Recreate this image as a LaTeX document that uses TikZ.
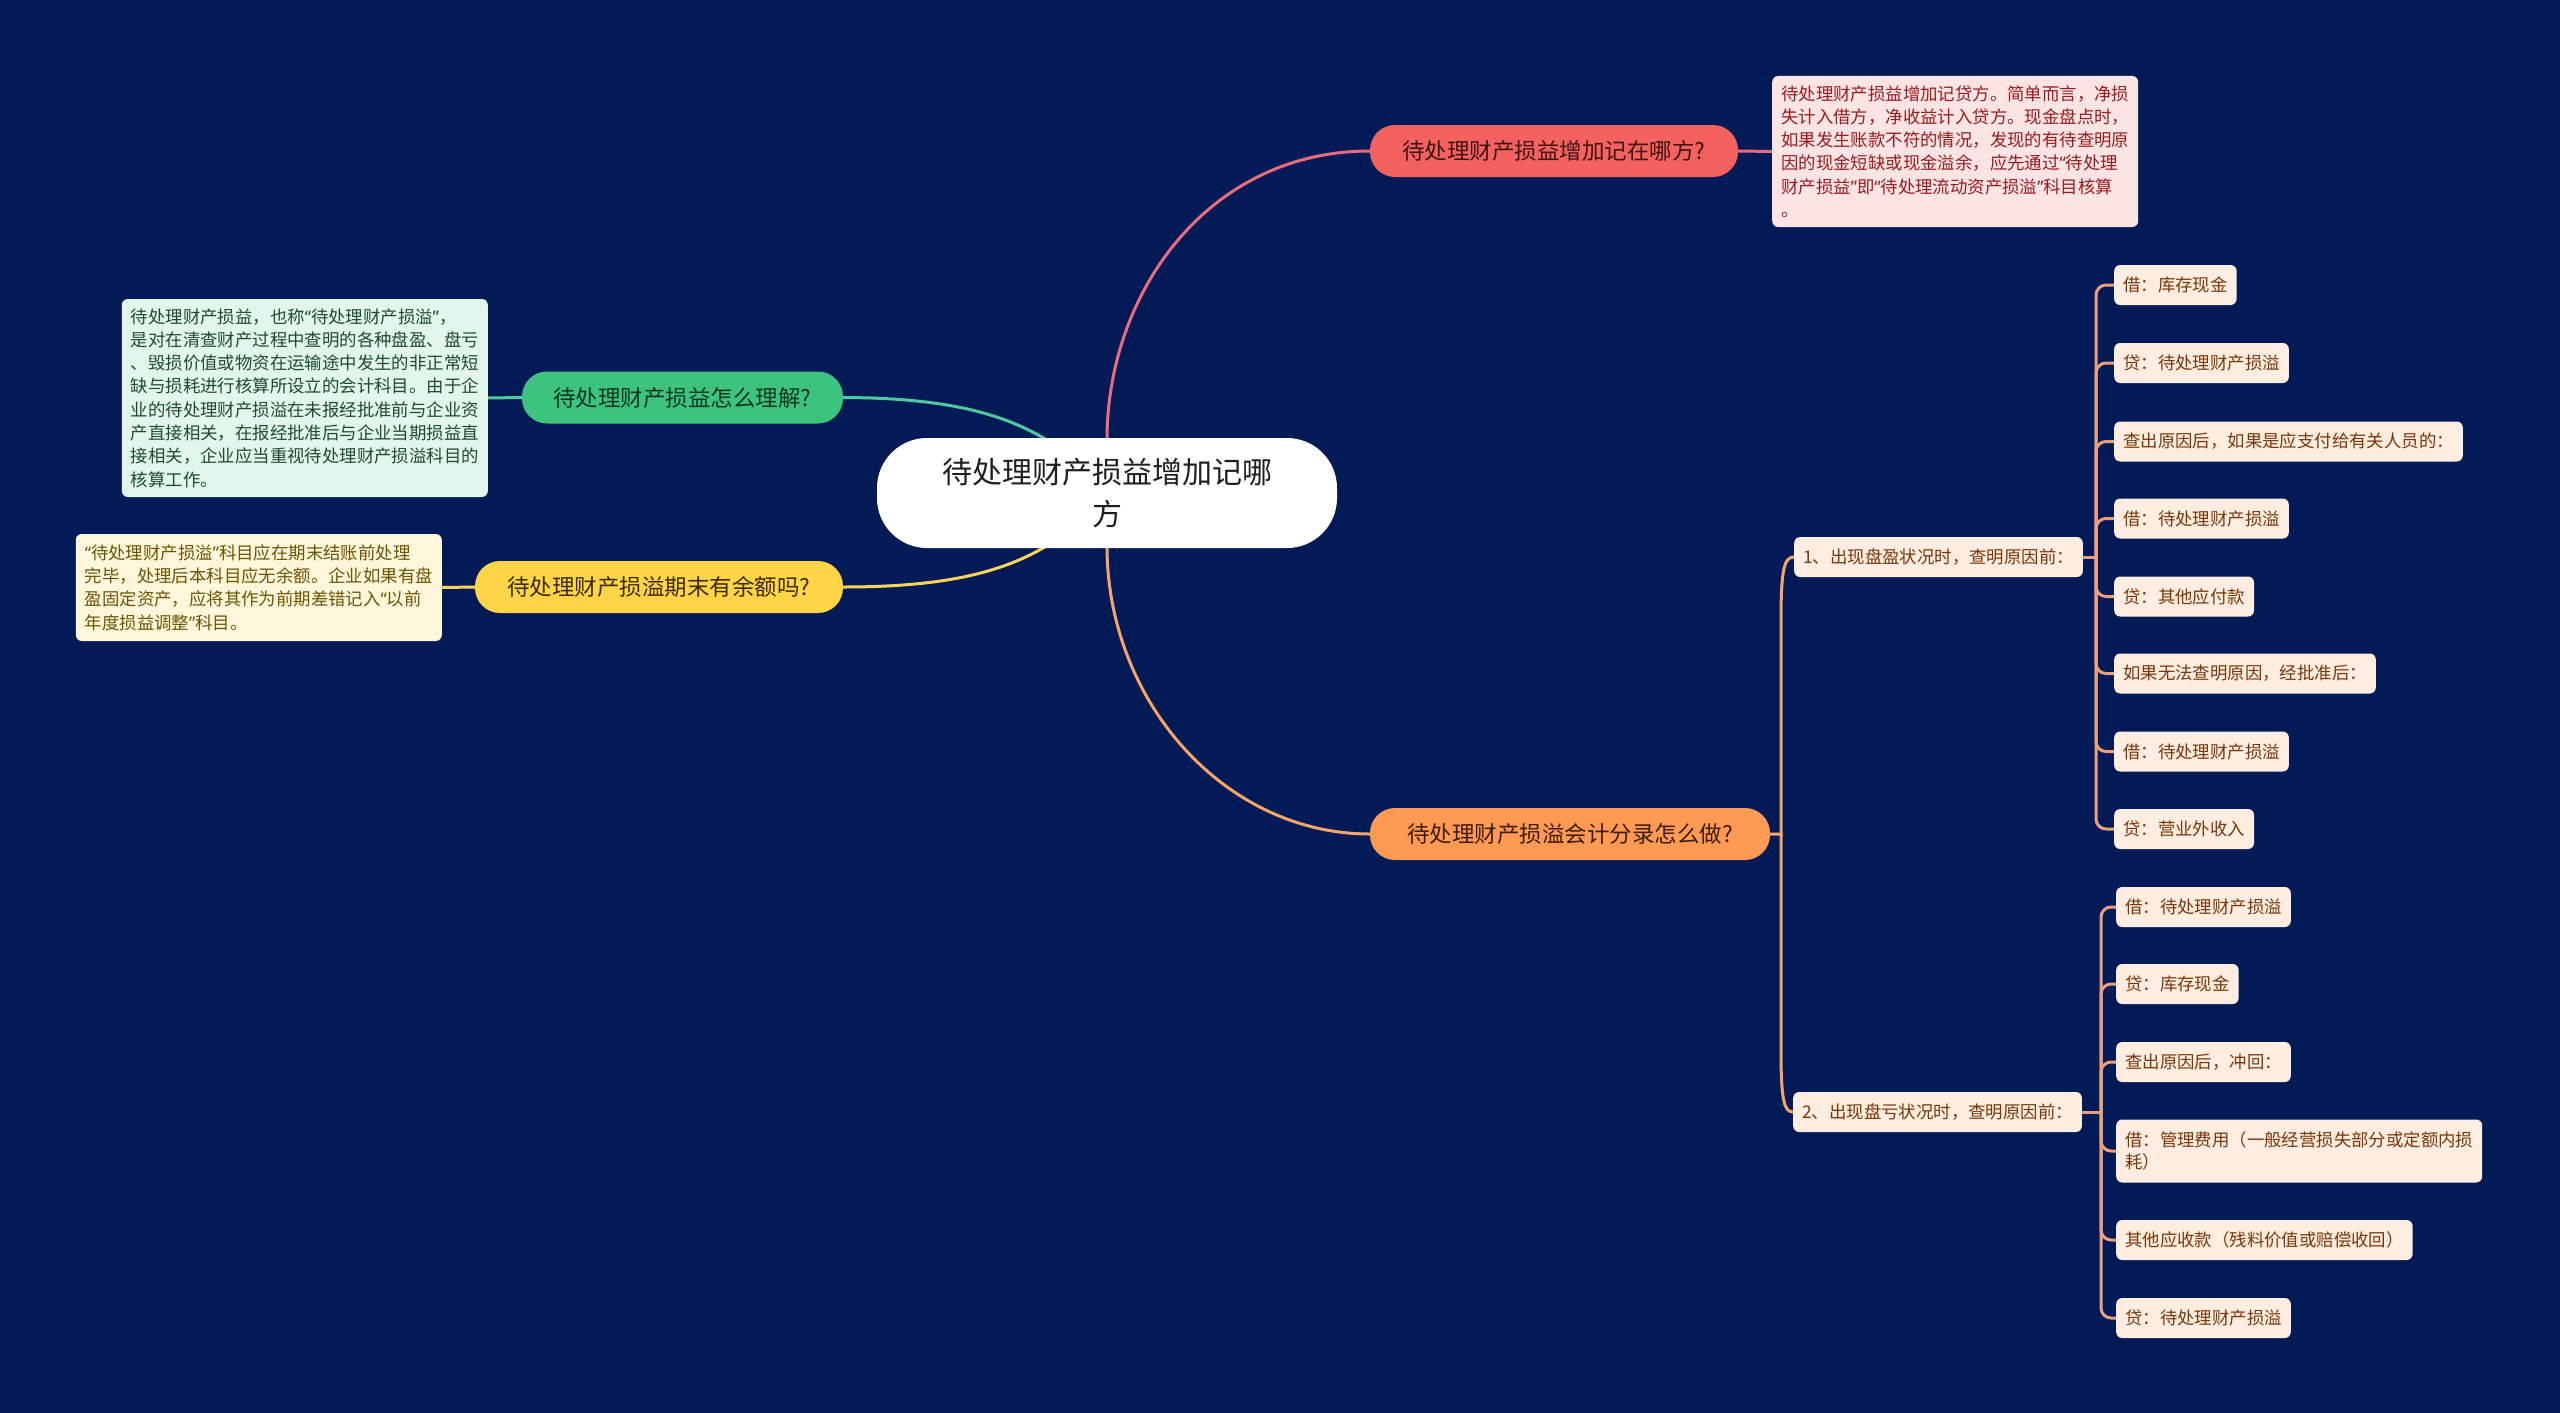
\documentclass[tikz,border=0pt]{standalone}
\usepackage{fontspec}
\setmainfont{Noto Sans CJK SC}
\newfontfamily\latinq{Noto Sans}
\newcommand\myqo{{\latinq “}}
\newcommand\myqc{{\latinq ”}}
\pgfdeclarelayer{back}
\pgfdeclarelayer{bg}
\pgfsetlayers{back,bg,main}
\definecolor{bgc}{HTML}{021B57}
\definecolor{redF}{HTML}{F4625F}
\definecolor{redT}{HTML}{3E1212}
\definecolor{redN}{HTML}{FDE4E4}
\definecolor{redNT}{HTML}{9A1B1B}
\definecolor{redL}{HTML}{E96B7E}
\definecolor{greenF}{HTML}{3CC47F}
\definecolor{greenT}{HTML}{0F3522}
\definecolor{greenN}{HTML}{E2F6EC}
\definecolor{greenNT}{HTML}{1C4A33}
\definecolor{greenL}{HTML}{4DC9A0}
\definecolor{yellowF}{HTML}{FFD447}
\definecolor{yellowT}{HTML}{3A2C00}
\definecolor{yellowN}{HTML}{FFF7DC}
\definecolor{yellowNT}{HTML}{6E5300}
\definecolor{yellowL}{HTML}{F7D55A}
\definecolor{orangeF}{HTML}{FF9A55}
\definecolor{orangeT}{HTML}{3D1C00}
\definecolor{orangeL}{HTML}{F7A468}
\definecolor{leafF}{HTML}{FEEDE0}
\definecolor{leafT}{HTML}{7A3608}
\definecolor{treeL}{HTML}{EAA07E}
\begin{document}
\begin{tikzpicture}[x=1pt,y=-1pt,
  rootbox/.style={fill=white, rounded corners=50, minimum width=460, minimum height=110,
    align=center, text=black!88, inner sep=0, font=\fontsize{30}{42}\selectfont},
  branch/.style={rounded corners=25, minimum height=52, inner sep=0,
    font=\fontsize{22.5}{27}\selectfont},
  note/.style={rounded corners=6, align=left, inner xsep=9, inner ysep=6,
    font=\fontsize{17.4}{23.3}\selectfont},
  leaf/.style={fill=leafF, text=leafT, rounded corners=6, minimum height=40,
    inner xsep=9, inner ysep=4, anchor=west, align=left,
    font=\fontsize{17.4}{22.5}\selectfont},
  mainline/.style={line width=3pt},
  treeline/.style={line width=3pt, draw=treeL}
]
\begin{pgfonlayer}{back}
\fill[bgc] (0,0) rectangle (2560,1413);
\end{pgfonlayer}
\useasboundingbox (0,0) rectangle (2560,1413);

% root
\node[rootbox] (root) at (1107,493) {待处理财产损益增加记哪\\方};

% branches
\node[branch, fill=redF, text=redT, minimum width=368] (b1) at (1554,151) {待处理财产损益增加记在哪方?};
\node[branch, fill=greenF, text=greenT, minimum width=321] (b2) at (682.5,397.5) {待处理财产损益怎么理解?};
\node[branch, fill=yellowF, text=yellowT, minimum width=368] (b3) at (659,587) {待处理财产损溢期末有余额吗?};
\node[branch, fill=orangeF, text=orangeT, minimum width=400] (b4) at (1570,834) {待处理财产损溢会计分录怎么做?};

% notes
\node[note, fill=redN, text=redNT, anchor=west, minimum height=151] (n1) at (1772,151.5)
 {待处理财产损益增加记贷方。简单而言，净损\\失计入借方，净收益计入贷方。现金盘点时，\\如果发生账款不符的情况，发现的有待查明原\\因的现金短缺或现金溢余，应先通过\myqo 待处理\\财产损益\myqc 即\myqo 待处理流动资产损溢\myqc 科目核算\\。};
\node[note, fill=greenN, text=greenNT, anchor=east, minimum height=198] (n2) at (488,398)
 {待处理财产损益，也称\myqo 待处理财产损溢\myqc ，\\是对在清查财产过程中查明的各种盘盈、盘亏\\、毁损价值或物资在运输途中发生的非正常短\\缺与损耗进行核算所设立的会计科目。由于企\\业的待处理财产损溢在未报经批准前与企业资\\产直接相关，在报经批准后与企业当期损益直\\接相关，企业应当重视待处理财产损溢科目的\\核算工作。};
\node[note, fill=yellowN, text=yellowNT, anchor=east, minimum height=107] (n3) at (442,587.5)
 {\myqo 待处理财产损溢\myqc 科目应在期末结账前处理\\完毕，处理后本科目应无余额。企业如果有盘\\盈固定资产，应将其作为前期差错记入\myqo 以前\\年度损益调整\myqc 科目。};

% sub-branches
\node[leaf] (s1) at (1794,557) {1、出现盘盈状况时，查明原因前：};
\node[leaf] (s2) at (1793,1112) {2、出现盘亏状况时，查明原因前：};

% leaves of s1
\node[leaf] (l1) at (2114,285) {借：库存现金};
\node[leaf] (l2) at (2114,363) {贷：待处理财产损溢};
\node[leaf] (l3) at (2114,441.5) {查出原因后，如果是应支付给有关人员的：};
\node[leaf] (l4) at (2114,518.5) {借：待处理财产损溢};
\node[leaf] (l5) at (2114,596.5) {贷：其他应付款};
\node[leaf] (l6) at (2114,673.5) {如果无法查明原因，经批准后：};
\node[leaf] (l7) at (2114,751.5) {借：待处理财产损溢};
\node[leaf] (l8) at (2114,829) {贷：营业外收入};

% leaves of s2
\node[leaf] (m1) at (2116,907) {借：待处理财产损溢};
\node[leaf] (m2) at (2116,984) {贷：库存现金};
\node[leaf] (m3) at (2116,1062) {查出原因后，冲回：};
\node[leaf, minimum height=63] (m4) at (2116,1151) {借：管理费用（一般经营损失部分或定额内损\\耗）};
\node[leaf] (m5) at (2116,1240) {其他应收款（残料价值或赔偿收回）};
\node[leaf] (m6) at (2116,1318) {贷：待处理财产损溢};

\coordinate (oj) at (1781,834);
\coordinate (t1) at (2096,557);
\coordinate (t2) at (2101,1112);

\begin{pgfonlayer}{bg}
\draw[mainline, draw=redL] (root.north) .. controls (1108,290) and (1210,151) .. (b1.west);
\draw[mainline, draw=orangeL] (root.south) .. controls (1108,702) and (1225,834) .. (b4.west);
\draw[mainline, draw=greenL] (b2.east) .. controls (980,398) and (1050,425) .. (root.center);
\draw[mainline, draw=yellowL] (b3.east) .. controls (980,587) and (1050,561) .. (root.center);
\draw[mainline, draw=redL] (b1.east) -- (n1.west);
\draw[mainline, draw=greenL] (n2.east) -- (b2.west);
\draw[mainline, draw=yellowL] (n3.east) -- (b3.west);
\draw[mainline, draw=orangeL] (b4.east) -- (oj) -- (1781,620) .. controls (1781,570) and (1784,557) .. (s1.west);
\draw[mainline, draw=orangeL] (oj) -- (1781,1050) .. controls (1781,1100) and (1784,1112) .. (s2.west);
\draw[treeline] (s1.east) -- (t1);
\foreach \l in {l1,l2,l3,l4,l5,l6,l7,l8}
  \draw[treeline, rounded corners=10] (t1) -- (t1 |- \l.west) -- (\l.west);
\draw[treeline] (s2.east) -- (t2);
\foreach \l in {m1,m2,m3,m4,m5,m6}
  \draw[treeline, rounded corners=10] (t2) -- (t2 |- \l.west) -- (\l.west);
\end{pgfonlayer}
\end{tikzpicture}
\end{document}
